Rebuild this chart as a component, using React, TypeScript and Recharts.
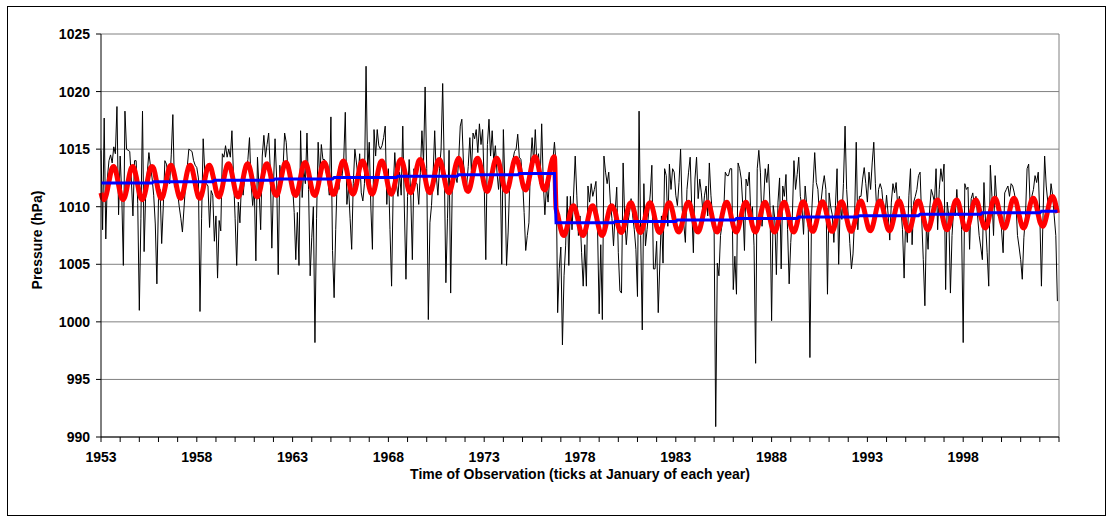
import React from 'react';
import { LineChart, Line, XAxis, YAxis, CartesianGrid, ReferenceLine } from 'recharts';

const startYear = 1953;

// Monthly mean pressure (hPa), one list per five years, January first
const pressure1953 = [
  1014.9, 1008.0, 1017.7, 1007.2, 1012.5, 1014.0, 1014.5, 1013.8, 1015.2, 1014.6, 1018.7, 1009.3,
  1014.4, 1011.0, 1004.9, 1018.3, 1015.0, 1014.9, 1014.8, 1012.4, 1009.2, 1014.0, 1014.0, 1010.3,
  1001.0, 1009.0, 1018.3, 1006.1, 1011.2, 1013.0, 1014.7, 1013.5, 1012.5, 1011.0, 1008.5, 1003.3,
  1010.6, 1011.5, 1006.8, 1010.0, 1014.0, 1013.7, 1012.8, 1012.0, 1014.5, 1018.0, 1011.7, 1012.0,
  1011.2, 1010.0, 1009.0, 1007.8, 1009.9, 1012.0, 1013.4, 1015.0, 1014.9, 1014.8, 1014.0, 1013.6,
];
const pressure1958 = [
  1013.4, 1012.5, 1000.9, 1009.0, 1015.9, 1013.0, 1012.0, 1011.8, 1008.2, 1011.4, 1011.0, 1007.0,
  1009.2, 1003.8, 1008.8, 1007.9, 1014.6, 1014.3, 1015.3, 1014.3, 1015.0, 1014.3, 1016.6, 1012.7,
  1009.0, 1004.9, 1010.4, 1008.6, 1012.1, 1011.0, 1012.5, 1013.2, 1014.1, 1016.0, 1012.0, 1010.1,
  1011.7, 1005.3, 1014.3, 1011.5, 1008.0, 1014.4, 1016.2, 1014.3, 1015.4, 1016.4, 1013.3, 1006.4,
  1011.8, 1015.9, 1012.5, 1004.1, 1013.6, 1012.0, 1013.3, 1016.4, 1015.6, 1013.3, 1012.4, 1012.0,
];
const pressure1963 = [
  1011.8, 1009.5, 1005.4, 1009.5, 1004.9, 1016.6, 1010.8, 1013.3, 1012.0, 1016.4, 1011.5, 1004.0,
  1007.3, 1010.0, 998.2, 1009.0, 1015.6, 1012.4, 1015.4, 1014.1, 1014.1, 1013.0, 1012.4, 1011.0,
  1017.8, 1006.2, 1002.1, 1008.0, 1012.7, 1011.5, 1013.0, 1012.7, 1014.0, 1018.2, 1010.2, 1011.8,
  1009.0, 1006.3, 1012.0, 1015.0, 1013.8, 1012.5, 1014.6, 1011.2, 1010.5, 1012.0, 1022.2, 1013.0,
  1015.6, 1010.0, 1006.3, 1016.7, 1014.4, 1016.7, 1015.3, 1015.0, 1015.3, 1016.0, 1017.0, 1010.2,
];
const pressure1968 = [
  1013.3, 1008.0, 1003.1, 1011.5, 1014.7, 1012.0, 1010.9, 1013.0, 1011.0, 1017.0, 1009.8, 1003.7,
  1010.9, 1014.1, 1011.0, 1005.4, 1013.3, 1012.1, 1012.0, 1010.2, 1013.0, 1016.6, 1013.8, 1020.4,
  1013.3, 1000.2, 1008.6, 1010.1, 1012.8, 1016.6, 1012.7, 1011.0, 1013.3, 1015.0, 1020.7, 1013.3,
  1003.4, 1009.0, 1014.9, 1002.5, 1011.8, 1012.7, 1012.7, 1012.1, 1014.0, 1017.0, 1017.6, 1013.8,
  1012.5, 1011.8, 1013.5, 1016.0, 1013.0, 1016.4, 1015.9, 1016.7, 1014.7, 1017.2, 1015.4, 1016.7,
];
const pressure1973 = [
  1012.0, 1005.4, 1015.4, 1017.6, 1014.4, 1016.6, 1013.9, 1015.3, 1013.0, 1011.5, 1013.6, 1005.0,
  1016.7, 1011.8, 1004.9, 1007.8, 1012.2, 1013.0, 1014.1, 1014.8, 1015.0, 1016.3, 1014.3, 1014.1,
  1012.4, 1009.5, 1006.2, 1007.5, 1008.6, 1013.8, 1016.0, 1013.8, 1016.7, 1013.8, 1014.6, 1012.0,
  1017.2, 1012.1, 1009.3, 1011.8, 1010.4, 1012.5, 1013.3, 1014.0, 1015.6, 1013.8, 1000.8, 1004.6,
  1006.5, 998.0, 1004.0, 1006.6, 1010.9, 1004.9, 1010.9, 1008.0, 1011.1, 1014.4, 1011.0, 1007.5,
];
const pressure1978 = [
  1009.2, 1006.0, 1003.1, 1006.7, 1003.1, 1011.8, 1010.4, 1012.0, 1010.9, 1011.5, 1012.2, 1008.0,
  1000.7, 1006.7, 1000.2, 1014.4, 1013.0, 1012.0, 1013.0, 1010.4, 1009.0, 1006.6, 1009.5, 1011.7,
  1006.0, 1002.7, 1002.5, 1013.8, 1009.0, 1006.7, 1008.6, 1009.5, 1010.7, 1009.2, 1008.0, 1006.3,
  1002.2, 1018.3, 1007.5, 999.3, 1012.0, 1006.6, 1008.0, 1009.5, 1011.1, 1013.6, 1004.6, 1004.6,
  1007.0, 1000.8, 1005.1, 1009.2, 1005.1, 1013.3, 1012.7, 1008.3, 1013.7, 1011.5, 1013.3, 1013.0,
];
const pressure1983 = [
  1011.0, 1010.1, 1012.1, 1015.0, 1009.8, 1008.5, 1006.9, 1011.5, 1013.0, 1014.3, 1009.8, 1006.0,
  1012.4, 1014.3, 1010.7, 1012.4, 1011.2, 1009.5, 1011.0, 1011.8, 1009.2, 1013.8, 1011.0, 1009.2,
  1008.0, 990.9, 1005.1, 1004.0, 1007.5, 1008.5, 1009.5, 1013.0, 1012.7, 1012.7, 1013.3, 1013.3,
  1002.8, 1005.7, 1002.4, 1013.8, 1013.3, 1012.4, 1010.0, 1006.2, 1012.4, 1011.8, 1013.0, 1009.2,
  1010.0, 1006.6, 996.4, 1013.3, 1014.9, 1013.0, 1008.3, 1010.4, 1013.3, 1012.1, 1013.7, 1010.1,
];
const pressure1988 = [
  1000.1, 1010.1, 1009.0, 1004.1, 1010.4, 1012.5, 1004.6, 1011.8, 1010.9, 1012.8, 1008.0, 1003.3,
  1006.9, 1009.2, 1014.0, 1011.5, 1012.8, 1014.3, 1010.9, 1010.0, 1007.6, 1011.8, 1010.1, 1008.0,
  996.9, 1009.2, 1012.0, 1014.7, 1012.1, 1011.5, 1009.2, 1010.5, 1011.8, 1012.7, 1011.5, 1002.4,
  1011.2, 1010.0, 1009.3, 1006.9, 1010.1, 1013.3, 1005.0, 1010.4, 1008.9, 1012.0, 1017.0, 1011.5,
  1009.2, 1006.8, 1004.6, 1005.9, 1009.2, 1015.6, 1008.0, 1010.9, 1010.9, 1012.4, 1013.4, 1012.0,
];
const pressure1993 = [
  1010.4, 1013.0, 1011.5, 1013.8, 1015.6, 1012.0, 1009.2, 1011.5, 1012.0, 1011.5, 1010.0, 1009.2,
  1011.0, 1009.3, 1007.1, 1010.4, 1012.0, 1011.2, 1012.1, 1010.0, 1010.9, 1009.8, 1008.0, 1003.8,
  1009.2, 1006.9, 1011.0, 1013.3, 1006.7, 1010.4, 1010.9, 1011.5, 1012.7, 1013.0, 1009.0, 1005.4,
  1001.4, 1008.6, 1006.3, 1009.8, 1011.5, 1011.0, 1010.4, 1013.3, 1008.0, 1011.5, 1013.3, 1012.2,
  1013.7, 1002.8, 1010.4, 1009.2, 1002.5, 1007.5, 1009.8, 1009.2, 1011.5, 1009.2, 1010.4, 1008.0,
];
const pressure1998 = [
  998.2, 1012.0, 1011.5, 1011.7, 1006.3, 1010.7, 1011.2, 1010.0, 1010.9, 1009.2, 1007.5, 1006.5,
  1005.4, 1012.1, 1008.6, 1006.0, 1003.1, 1013.6, 1010.9, 1007.5, 1012.7, 1010.5, 1009.2, 1009.8,
  1008.0, 1006.0, 1011.2, 1011.5, 1011.8, 1010.9, 1012.0, 1011.8, 1011.2, 1010.4, 1007.5, 1006.5,
  1005.4, 1003.7, 1007.3, 1009.2, 1013.3, 1013.7, 1009.8, 1010.9, 1011.5, 1012.7, 1012.1, 1013.0,
  1009.2, 1003.1, 1009.2, 1014.4, 1011.8, 1010.4, 1009.8, 1012.0, 1011.0, 1009.2, 1007.5, 1001.8,
];

// Stepped trend: month index where each level starts, and the level (hPa)
const breakMonth = 285;
const trendStarts = [0, 33, 71, 109, 146, 186, 224, 262, 285, 322, 361, 398, 437, 475, 513, 552, 589];
const trendLevels = [
  1012.05, 1012.17, 1012.29, 1012.41, 1012.53, 1012.65, 1012.77, 1012.89,
  1008.6, 1008.72, 1008.85, 1008.97, 1009.1, 1009.22, 1009.35, 1009.47, 1009.6,
];
// Centre of the seasonal fit over the same steps (hPa)
const fitLevels = [
  1012.05, 1012.17, 1012.29, 1012.41, 1012.53, 1012.65, 1012.77, 1012.89,
  1008.8, 1009.05, 1009.1, 1009.1, 1009.15, 1009.2, 1009.3, 1009.45, 1009.6,
];

// Seasonal departure from the fit centre, Jan..Dec (hPa), before and after the break
const seasonalBefore = [-0.85, -1.33, -1.44, -1.17, -0.59, 0.15, 0.85, 1.33, 1.44, 1.17, 0.59, -0.15];
const seasonalAfter = [-0.76, -1.19, -1.29, -1.05, -0.53, 0.14, 0.76, 1.19, 1.29, 1.05, 0.53, -0.14];

const pressureTicks = [990, 995, 1000, 1005, 1010, 1015, 1020, 1025];
const yearTicks = Array.from({ length: 51 }, (_, i) => i * 12);

const monthly = [
  ...pressure1953, ...pressure1958, ...pressure1963, ...pressure1968, ...pressure1973,
  ...pressure1978, ...pressure1983, ...pressure1988, ...pressure1993, ...pressure1998,
];

const stepIndex = (m: number) => {
  let idx = 0;
  trendStarts.forEach((s, i) => {
    if (m >= s) idx = i;
  });
  return idx;
};

const data = monthly.map((p, m) => {
  const i = stepIndex(m);
  const season = m < breakMonth ? seasonalBefore : seasonalAfter;
  return { m, pressure: p, trend: trendLevels[i], fit: +(fitLevels[i] + season[m % 12]).toFixed(2) };
});

const FONT = 'Arial, "Liberation Sans", sans-serif';
const tickStyle = { fontFamily: FONT, fontSize: 14, fontWeight: 700, fill: '#000' };

const yearLabel = (m: number) => (m % 60 === 0 && m < 600 ? String(startYear + m / 12) : '');

export default function App() {
  return (
    <div style={{ position: 'absolute', left: 0, top: 0, width: 1109, height: 519, background: '#fff' }}>
      <div
        style={{
          position: 'absolute', left: 7, top: 6, width: 1097, height: 508,
          border: '1px solid #000',
        }}
      />
      <LineChart
        width={1109}
        height={519}
        data={data}
        margin={{ top: 34, right: 50, left: 0, bottom: 0 }}
      >
        <CartesianGrid vertical={false} stroke="#808080" />
        <XAxis
          dataKey="m"
          type="number"
          domain={[0, 600]}
          ticks={yearTicks}
          interval={0}
          tickFormatter={yearLabel}
          tick={tickStyle}
          tickSize={5}
          tickMargin={10}
          height={82}
          axisLine={{ stroke: '#000' }}
          tickLine={{ stroke: '#000' }}
        />
        <YAxis
          domain={[990, 1025]}
          ticks={pressureTicks}
          interval={0}
          tick={tickStyle}
          tickSize={5}
          tickMargin={6}
          width={101}
          axisLine={{ stroke: '#000' }}
          tickLine={{ stroke: '#000' }}
        />
        <ReferenceLine x={600} stroke="#808080" />
        <Line dataKey="pressure" stroke="#000" strokeWidth={1} dot={false} type="linear" isAnimationActive={false} />
        <Line dataKey="fit" stroke="#ff0000" strokeWidth={5} dot={false} type="monotone" isAnimationActive={false} />
        <Line dataKey="trend" stroke="#0000ff" strokeWidth={3} dot={false} type="linear" isAnimationActive={false} />
      </LineChart>
      <div
        style={{
          position: 'absolute', left: 37, top: 240, transform: 'translate(-50%, -50%) rotate(-90deg)',
          fontFamily: FONT, fontSize: 14, fontWeight: 700, whiteSpace: 'nowrap',
        }}
      >
        Pressure (hPa)
      </div>
      <div
        style={{
          position: 'absolute', left: 580, top: 474, transform: 'translate(-50%, -50%)',
          fontFamily: FONT, fontSize: 14, fontWeight: 700, whiteSpace: 'nowrap',
        }}
      >
        Time of Observation (ticks at January of each year)
      </div>
    </div>
  );
}
